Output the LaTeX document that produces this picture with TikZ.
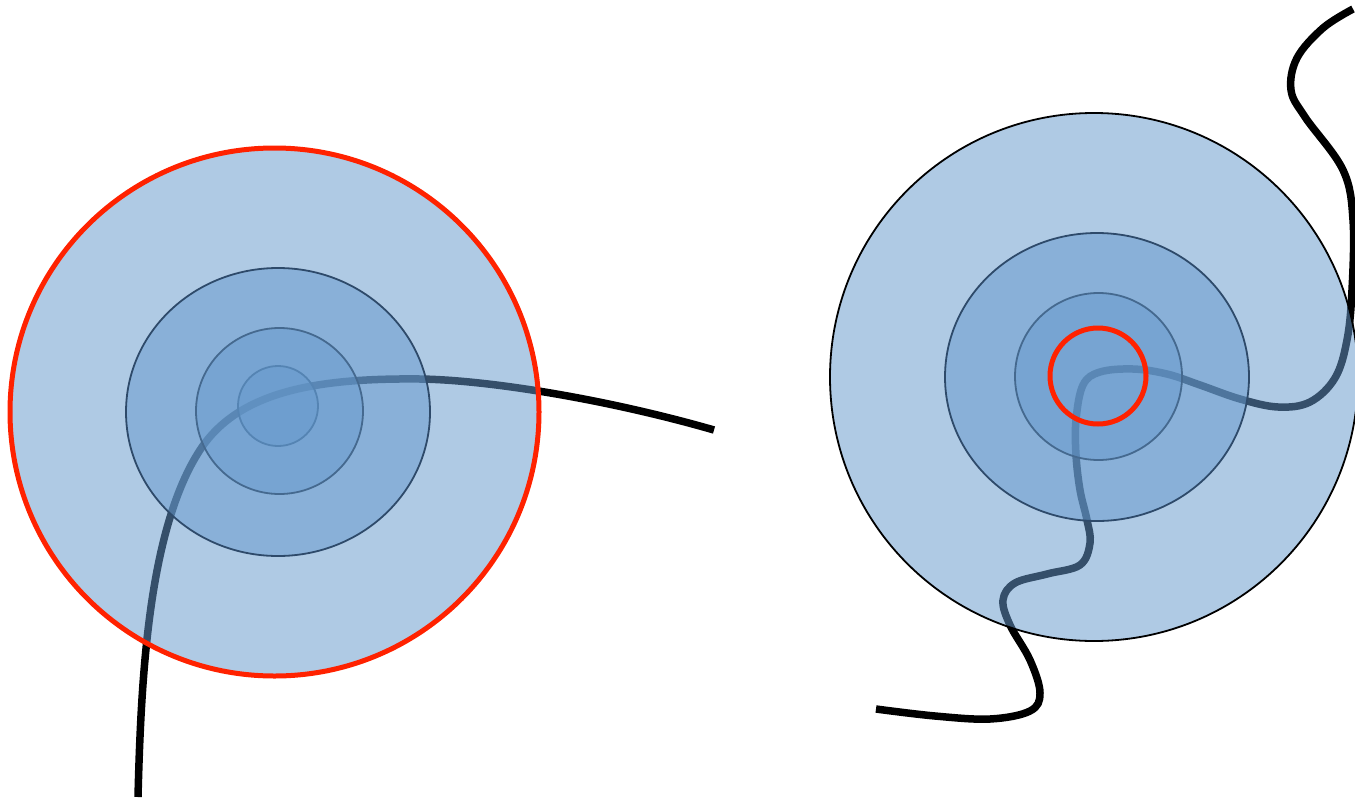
\documentclass[tikz,border=0pt]{standalone}
\usetikzlibrary{calc}
\definecolor{lblue}{HTML}{6699CC}
\definecolor{redline}{HTML}{FF2200}
\definecolor{edgeA}{HTML}{2E4A6A}
\definecolor{edgeB}{HTML}{45698F}
\definecolor{edgeC}{HTML}{5584B3}
\tikzset{
  wire/.style={line width=7.5pt, black, line cap=butt, line join=round},
  layer/.style={fill=lblue, fill opacity=0.52},
  redring/.style={draw=redline, line width=5pt},
  thinedge/.style={line width=1.8pt},
}
\begin{document}
\begin{tikzpicture}[x=1pt,y=-1pt]
\useasboundingbox (0,0) rectangle (1355,798);
\clip (0,0) rectangle (1355,798);
% ---- left wire ----
\draw[wire] (138,797) .. controls (141,680) and (148,530) .. (200,450)
  .. controls (239,390) and (320,378) .. (420,379)
  .. controls (490,380) and (610,400) .. (714,430);
% ---- right wire ----
\draw[wire] plot[smooth, tension=0.6] coordinates {
 (876,709) (935,716) (990,719) (1030,711) (1040,693) (1030,660) (1010,625)
 (1003,600) (1015,583) (1047,574) (1080,565) (1090,543) (1087,520) (1080,490)
 (1076,455) (1076,420) (1083,385) (1100,372) (1133,369) (1167,374) (1200,385)
 (1240,399) (1278,407) (1310,402) (1335,378) (1347,340) (1352,290) (1353,220)
 (1343,170) (1305,117) (1291,90) (1297,58) (1323,28) (1353,9)};
% ---- left target ----
\fill[layer] (274.5,412) ellipse[x radius=264.5pt, y radius=264pt];
\path[layer, draw=edgeA, thinedge] (278,412) ellipse[x radius=152pt, y radius=144pt];
\path[layer, draw=edgeB, thinedge] (279.5,411) ellipse[x radius=83.5pt, y radius=83pt];
\path[layer, draw=edgeC, thinedge] (278,406) ellipse[x radius=40pt, y radius=40pt];
\draw[redring] (274.5,412) ellipse[x radius=264.5pt, y radius=264pt];
% ---- right target ----
\path[layer, draw=black, thinedge] (1094,377) ellipse[x radius=264pt, y radius=264pt];
\path[layer, draw=edgeA, thinedge] (1097,377) ellipse[x radius=152pt, y radius=144pt];
\path[layer, draw=edgeB, thinedge] (1098.5,376.5) ellipse[x radius=83.5pt, y radius=83.5pt];
\draw[redring] (1098,376) ellipse[x radius=48pt, y radius=48pt];
\end{tikzpicture}
\end{document}
